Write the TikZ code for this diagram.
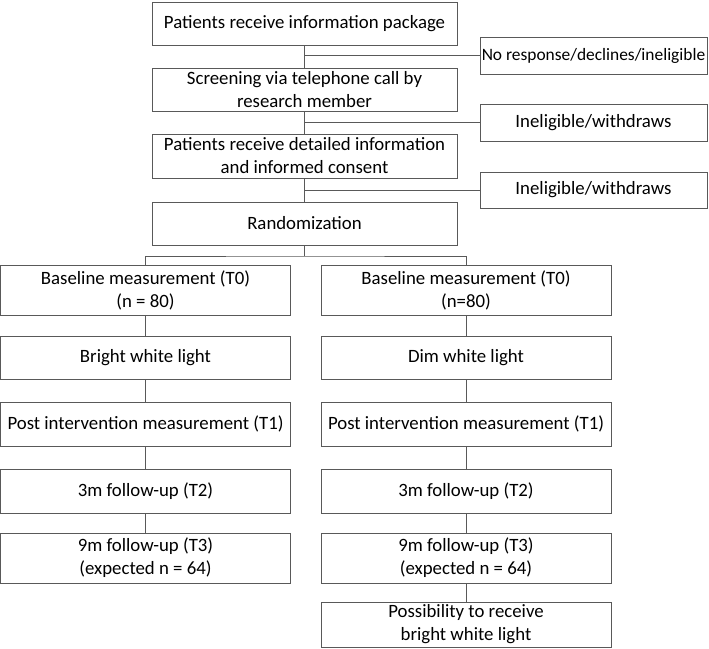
\documentclass[tikz,border=0pt]{standalone}
\usepackage{fontspec}
\setmainfont{Carlito}
\usepackage{tikz}
\usetikzlibrary{positioning}

\tikzset{
	box/.style={draw=black!65, line width=0.8pt, align=center, inner sep=0pt, font=\fontsize{18.8}{23}\selectfont},
	mainbox/.style={box, minimum width=305pt, minimum height=43pt},
	sidebox/.style={box, minimum width=227pt, minimum height=37pt},
	armbox/.style={box, minimum width=290pt, minimum height=44pt},
	link/.style={draw=black!65, line width=0.8pt},
}

\begin{document}
\begin{tikzpicture}[x=1pt, y=-1pt]
	\useasboundingbox (0,0) rectangle (709,648);

	% enrolment
	\node [mainbox] (info) at (304.5,23.5) {Patients receive information package};
	\node [mainbox] (screen) at (304.5,89.5) {Screening via telephone call by\\research member};
	\node [mainbox, minimum height=44pt] (consent) at (304.5,156) {Patients receive detailed information\\and informed consent};
	\node [mainbox] (rand) at (304.5,223.5) {Randomization};

	\node [sidebox, font=\fontsize{17.4}{23}\selectfont] (noresp) at (593.5,55.5) {No response/declines/ineligible};
	\node [sidebox] (withdrawA) at (593.5,122.5) {Ineligible/withdraws};
	\node [sidebox, minimum height=36pt] (withdrawB) at (593.5,190) {Ineligible/withdraws};

	\draw [link] (info) -- (screen);
	\draw [link] (screen) -- (consent);
	\draw [link] (consent) -- (rand);
	\draw [link] (info.south |- noresp.west) -- (noresp.west);
	\draw [link] (screen.south |- withdrawA.west) -- (withdrawA.west);
	\draw [link] (consent.south |- withdrawB.west) -- (withdrawB.west);

	% bright light arm
	\node [armbox, minimum height=50pt] (baseL) at (145.5,290) {Baseline measurement (T0)\\(n = 80)};
	\node [armbox, minimum height=43pt] (lightL) at (145.5,357.5) {Bright white light};
	\node [armbox] (postL) at (145.5,424) {Post intervention measurement (T1)};
	\node [armbox] (threeL) at (145.5,491) {3m follow-up (T2)};
	\node [armbox, minimum height=50pt] (nineL) at (145.5,558) {9m follow-up (T3)\\(expected n = 64)};

	% dim light arm
	\node [armbox, minimum height=50pt] (baseR) at (466,290) {Baseline measurement (T0)\\(n=80)};
	\node [armbox, minimum height=43pt] (lightR) at (466,357.5) {Dim white light};
	\node [armbox] (postR) at (466,424) {Post intervention measurement (T1)};
	\node [armbox] (threeR) at (466,491) {3m follow-up (T2)};
	\node [armbox, minimum height=50pt] (nineR) at (466,558) {9m follow-up (T3)\\(expected n = 64)};
	\node [armbox, minimum height=45pt] (cross) at (466,624.5) {Possibility to receive\\bright white light};

	\coordinate (split) at (304.5,256);
	\draw [link] (rand) -- (split);
	\draw [link] (baseL.north) |- (split) -| (baseR.north);

	\foreach \a/\b in {baseL/lightL, lightL/postL, postL/threeL, threeL/nineL,
		baseR/lightR, lightR/postR, postR/threeR, threeR/nineR, nineR/cross}
		\draw [link] (\a) -- (\b);
\end{tikzpicture}
\end{document}
